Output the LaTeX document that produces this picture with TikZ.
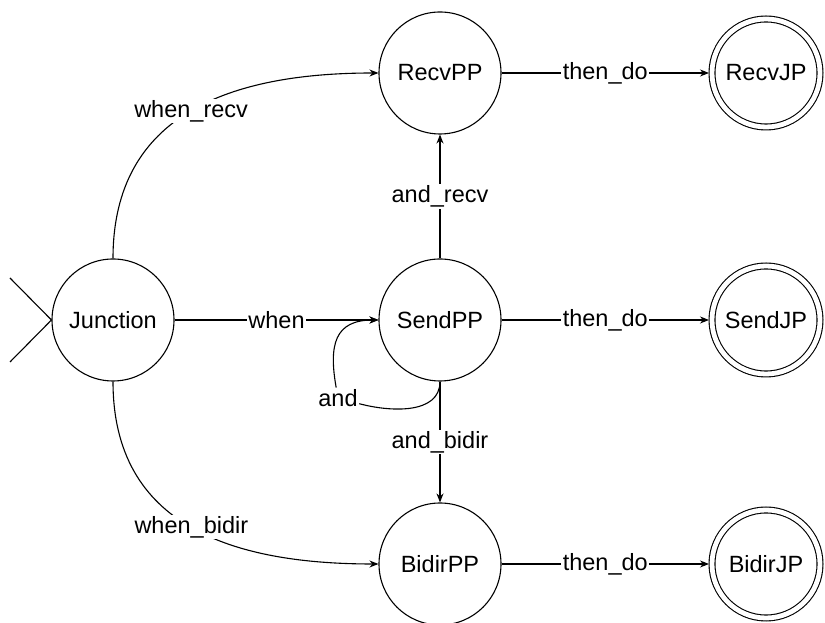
\documentclass[tikz,border=0pt]{standalone}
\usepackage{fontspec}
\setmainfont{Liberation Sans}
\usetikzlibrary{arrows.meta, positioning}

\begin{document}
\begin{tikzpicture}[x=1pt, y=1pt]
                \tikzstyle{vertex} = [shape=circle, draw=black, line width=1.1pt, minimum size=122pt, inner sep=0pt, font=\fontsize{23.5}{28}\selectfont];
                \tikzstyle{final} = [vertex, minimum size=108pt, double, double distance=4.8pt, outer sep=3pt];
                \tikzstyle{lbl} = [fill=white, inner sep=1.5pt, font=\fontsize{23.5}{28}\selectfont];

                \useasboundingbox (0,0) rectangle (825,623);

                \node[vertex](J) at (113,303) {Junction};
                \node[vertex](RP) at (440,550) {RecvPP};
                \node[vertex](SP) at (440,303) {SendPP};
                \node[vertex](BP) at (440,59) {BidirPP};
                \node[final](RJ) at (766,550) {RecvJP};
                \node[final](SJ) at (766,303) {SendJP};
                \node[final](BJ) at (766,59) {BidirJP};
                \node[lbl](A) at (338,225) {and};

                % start marker on the left
                \coordinate (I1) at (10,345);
                \coordinate (I2) at (10,261);
                \draw[line width=1.1pt] (I1) -- (J.west) -- (I2);

                \draw[-{Stealth[length=9pt,width=7pt]}, line width=1.1pt]
                    (J) edge[out=90, in=180, looseness=1.15] node[lbl]{when\_recv} (RP)
                    (J) edge node[lbl]{when} (SP)
                    (J) edge[out=-90, in=180, looseness=1.15] node[lbl]{when\_bidir} (BP)
                    (SP) edge node[lbl]{and\_recv} (RP)
                    (SP) edge node[lbl]{and\_bidir} (BP)
                    (RP) edge node[lbl]{then\_do} (RJ)
                    (SP) edge node[lbl]{then\_do} (SJ)
                    (BP) edge node[lbl]{then\_do} (BJ)
                    (A) edge[out=100, in=180, looseness=1.4] (SP)
                ;
                \draw[line width=1.1pt] (SP) to[out=-90, in=-15] (A);
            \end{tikzpicture}
\end{document}
